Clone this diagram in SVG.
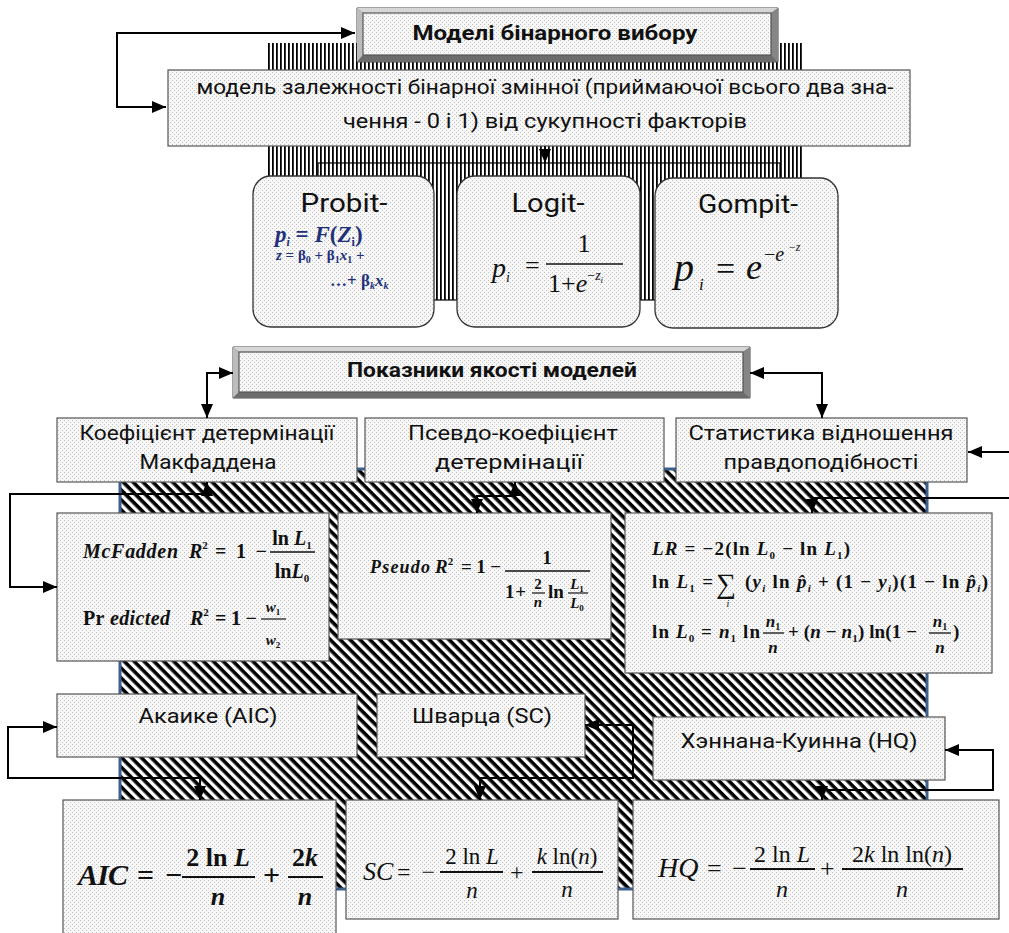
<svg xmlns="http://www.w3.org/2000/svg" width="1009" height="933" viewBox="0 0 1009 933">
<defs>
<pattern id="dots" width="4" height="4" patternUnits="userSpaceOnUse"><rect width="4" height="4" fill="#f7f7f7"/><rect x="0" y="0" width="1" height="1" fill="#c2c2c2"/><rect x="2" y="2" width="1" height="1" fill="#c2c2c2"/></pattern>
<pattern id="vh" width="4" height="8" patternUnits="userSpaceOnUse"><rect width="4" height="8" fill="#fff"/><rect width="1.8" height="8" fill="#000"/></pattern>
<pattern id="dh" width="7" height="7" patternUnits="userSpaceOnUse" patternTransform="rotate(45)"><rect width="7" height="7" fill="#fff"/><rect width="7" height="3.6" fill="#000"/></pattern>
<marker id="ah" viewBox="0 0 14 12" refX="14" refY="6" markerWidth="14" markerHeight="12" markerUnits="userSpaceOnUse" orient="auto-start-reverse"><path d="M0,0 L14,6 L0,12 z" fill="#000"/></marker>
</defs>
<style>
.box{fill:url(#dots);stroke:#555;stroke-width:1.2}
.rbox{fill:url(#dots);stroke:#333;stroke-width:1.3}
.t{font-family:Roboto,"Noto Sans",sans-serif;font-size:21px;fill:#111;text-anchor:middle}
.tb{font-weight:bold;font-size:20px}
.big{font-size:26px}
.m{font-family:"Liberation Serif","Times New Roman",serif;fill:#111}
.i{font-style:italic}
.b{font-weight:bold}
.c{text-anchor:middle}
.fb{stroke:#111;stroke-width:1.6}
.cn{fill:none;stroke:#000;stroke-width:2}
.nv{fill:#22307a}
.bev1{fill:#d6d6d6}.bev2{fill:#bcbcbc}.bev3{fill:#6c6c6c}.bev4{fill:#858585}
</style>
<rect width="1009" height="933" fill="#fff"/>

<g id="hatch-top">
<rect x="268" y="43" width="535" height="257" fill="url(#vh)"/>
<rect x="318" y="163" width="462" height="137" fill="none" stroke="#000" stroke-width="1.2"/>
</g>
<g id="hatch-mid">
<rect x="120" y="469" width="807" height="420" fill="url(#dh)" stroke="#3d5f8f" stroke-width="3"/>
</g>

<g id="title1">
<polygon points="357,8 778,8 778,62 357,62" fill="#777" stroke="#444" stroke-width="1"/>
<polygon class="bev1" points="357,8 778,8 771,13 363,13"/>
<polygon class="bev2" points="357,8 363,13 363,55 357,62"/>
<polygon class="bev3" points="357,62 363,55 771,55 778,62"/>
<polygon class="bev4" points="778,8 778,62 771,55 771,13"/>
<rect x="363" y="13" width="408" height="42" class="box"/>
<text x="555" y="40" class="t tb" textLength="285" lengthAdjust="spacingAndGlyphs">Моделі бінарного вибору</text>
</g>

<g id="binary-model">
<rect x="168" y="70" width="742" height="76" class="box"/>
<text x="545" y="94" class="t" textLength="697" lengthAdjust="spacingAndGlyphs">модель залежності бінарної змінної (приймаючої всього два зна-</text>
<text x="545" y="128" class="t" textLength="404" lengthAdjust="spacingAndGlyphs">чення - 0 і 1) від сукупності факторів</text>
</g>

<g id="probit">
<rect x="253" y="176" width="181" height="151" rx="18" class="rbox"/>
<text x="344" y="212" class="t big" textLength="87" lengthAdjust="spacingAndGlyphs">Probit-</text>
<text x="275" y="242" class="m b nv" font-size="23"><tspan class="i">p</tspan><tspan font-size="12" dy="4" class="i">i</tspan><tspan dy="-4"> = </tspan><tspan class="i">F</tspan>(<tspan class="i">Z</tspan><tspan font-size="12" dy="4">i</tspan><tspan dy="-4">)</tspan></text>
<text x="276" y="260" class="m b nv" font-size="15"><tspan class="i">z</tspan> = β<tspan font-size="10" dy="3">0</tspan><tspan dy="-3"> + β</tspan><tspan font-size="10" dy="3">1</tspan><tspan dy="-3" class="i">x</tspan><tspan font-size="10" dy="3">1</tspan><tspan dy="-3"> +</tspan></text>
<text x="330" y="286" class="m b nv" font-size="17">…+ β<tspan font-size="10" dy="3" class="i">k</tspan><tspan dy="-3" class="i">x</tspan><tspan font-size="10" dy="3" class="i">k</tspan></text>
</g>

<g id="logit">
<rect x="457" y="176" width="183" height="151" rx="18" class="rbox"/>
<text x="548" y="212" class="t big" textLength="73" lengthAdjust="spacingAndGlyphs">Logit-</text>
<text x="492" y="277" class="m i" font-size="28">p<tspan font-size="14" dy="5">i</tspan></text>
<text x="525" y="274" class="m" font-size="26">=</text>
<text x="584" y="252" class="m c" font-size="26">1</text>
<line x1="546" y1="264" x2="623" y2="264" class="fb"/>
<text x="548" y="292" class="m" font-size="26">1+<tspan class="i">e</tspan><tspan font-size="14" dy="-12">−</tspan><tspan font-size="14" class="i">z</tspan><tspan font-size="9" dy="3" class="i">i</tspan></text>
</g>

<g id="gompit">
<rect x="655" y="178" width="183" height="150" rx="18" class="rbox"/>
<text x="748" y="213" class="t big" textLength="100" lengthAdjust="spacingAndGlyphs">Gompit-</text>
<text x="674" y="281" class="m i" font-size="40">p</text>
<text x="699" y="290" class="m i" font-size="17">i</text>
<text x="716" y="280" class="m" font-size="34">=</text>
<text x="746" y="279" class="m i" font-size="36">e</text>
<text x="764" y="261" class="m" font-size="20">−<tspan class="i">e</tspan></text>
<text x="789" y="251" class="m" font-size="12">−<tspan class="i">z</tspan></text>
</g>

<g id="title2">
<polygon points="233,347 750,347 750,398 233,398" fill="#777" stroke="#444" stroke-width="1"/>
<polygon class="bev1" points="233,347 750,347 743,352 239,352"/>
<polygon class="bev2" points="233,347 239,352 239,392 233,398"/>
<polygon class="bev3" points="233,398 239,392 743,392 750,398"/>
<polygon class="bev4" points="750,347 750,398 743,392 743,352"/>
<rect x="239" y="352" width="504" height="40" class="box"/>
<text x="492" y="377" class="t tb" textLength="290" lengthAdjust="spacingAndGlyphs">Показники якості моделей</text>
</g>

<g id="mcfadden-label">
<rect x="57" y="418" width="300" height="64" class="box"/>
<text x="207" y="440" class="t" textLength="255" lengthAdjust="spacingAndGlyphs">Коефіцієнт детермінації</text>
<text x="208" y="469" class="t" textLength="137" lengthAdjust="spacingAndGlyphs">Макфаддена</text>
</g>
<g id="pseudo-label">
<rect x="365" y="418" width="299" height="64" class="box"/>
<text x="513" y="440" class="t" textLength="210" lengthAdjust="spacingAndGlyphs">Псевдо-коефіцієнт</text>
<text x="509" y="469" class="t" textLength="148" lengthAdjust="spacingAndGlyphs">детермінації</text>
</g>
<g id="lr-label">
<rect x="676" y="418" width="291" height="64" class="box"/>
<text x="821" y="440" class="t" textLength="265" lengthAdjust="spacingAndGlyphs">Статистика відношення</text>
<text x="821" y="469" class="t" textLength="195" lengthAdjust="spacingAndGlyphs">правдоподібності</text>
</g>

<g id="mcfadden-formula">
<rect x="57" y="513" width="272" height="148" class="box"/>
<text x="83" y="558" class="m b i" font-size="20" textLength="95">McFadden</text>
<text x="189" y="558" class="m b i" font-size="20">R<tspan font-size="11" dy="-9" style="font-style:normal">2</tspan></text>
<text x="215" y="558" class="m b" font-size="20" textLength="52">= 1 −</text>
<text x="292" y="545" class="m b c" font-size="20">ln <tspan class="i">L</tspan><tspan font-size="11" dy="4">1</tspan></text>
<line x1="270" y1="552" x2="315" y2="552" class="fb"/>
<text x="292" y="578" class="m b c" font-size="20">ln<tspan class="i">L</tspan><tspan font-size="11" dy="4">0</tspan></text>
<text x="83" y="625" class="m b" font-size="20" textLength="87">Pr <tspan class="i">edicted</tspan></text>
<text x="190" y="625" class="m b i" font-size="20">R<tspan font-size="11" dy="-9" style="font-style:normal">2</tspan></text>
<text x="215" y="625" class="m b" font-size="20" textLength="42">= 1 −</text>
<text x="273" y="612" class="m b c i" font-size="15">w<tspan font-size="9" dy="3" style="font-style:normal">1</tspan></text>
<line x1="261" y1="619" x2="286" y2="619" stroke="#111" stroke-width="1.2"/>
<text x="273" y="645" class="m b c i" font-size="15">w<tspan font-size="9" dy="3" style="font-style:normal">2</tspan></text>
</g>

<g id="pseudo-formula">
<rect x="338" y="513" width="273" height="126" class="box"/>
<text x="370" y="573" class="m b i" font-size="18" textLength="60">Pseudo</text>
<text x="435" y="573" class="m b i" font-size="19">R<tspan font-size="11" dy="-8" style="font-style:normal">2</tspan></text>
<text x="461" y="573" class="m b" font-size="19" textLength="40">= 1 −</text>
<text x="547" y="564" class="m b c" font-size="19">1</text>
<line x1="505" y1="571" x2="590" y2="571" class="fb"/>
<text x="505" y="598" class="m b" font-size="19" textLength="21">1+</text>
<text x="538" y="589" class="m b c" font-size="15">2</text>
<line x1="532" y1="593" x2="545" y2="593" stroke="#111" stroke-width="1.2"/>
<text x="538" y="607" class="m b c i" font-size="15">n</text>
<text x="548" y="598" class="m b" font-size="19">ln</text>
<text x="577" y="589" class="m b c i" font-size="15">L<tspan font-size="9" dy="3" style="font-style:normal">1</tspan></text>
<line x1="568" y1="593" x2="588" y2="593" stroke="#111" stroke-width="1.2"/>
<text x="577" y="608" class="m b c i" font-size="15">L<tspan font-size="9" dy="3" style="font-style:normal">0</tspan></text>
</g>

<g id="lr-formula">
<rect x="625" y="513" width="367" height="160" class="box"/>
<text x="652" y="555" class="m b" font-size="19" textLength="198"><tspan class="i">LR</tspan> = −2(ln <tspan class="i">L</tspan><tspan font-size="11" dy="4">0</tspan><tspan dy="-4"> − ln </tspan><tspan class="i">L</tspan><tspan font-size="11" dy="4">1</tspan><tspan dy="-4">)</tspan></text>
<text x="652" y="588" class="m b" font-size="19" textLength="61">ln <tspan class="i">L</tspan><tspan font-size="11" dy="4">1</tspan><tspan dy="-4"> =</tspan></text>
<text x="726" y="593" class="m c" font-size="28">∑</text>
<text x="728" y="607" class="m i c" font-size="10">i</text>
<text x="745" y="588" class="m b" font-size="19" textLength="243">(<tspan class="i">y</tspan><tspan font-size="11" dy="4" class="i">i</tspan><tspan dy="-4"> ln </tspan><tspan class="i">p̂</tspan><tspan font-size="11" dy="4" class="i">i</tspan><tspan dy="-4"> + (1 − </tspan><tspan class="i">y</tspan><tspan font-size="11" dy="4" class="i">i</tspan><tspan dy="-4">)(1 − ln </tspan><tspan class="i">p̂</tspan><tspan font-size="11" dy="4" class="i">i</tspan><tspan dy="-4">)</tspan></text>
<text x="652" y="638" class="m b" font-size="19" textLength="108">ln <tspan class="i">L</tspan><tspan font-size="11" dy="4">0</tspan><tspan dy="-4"> = </tspan><tspan class="i">n</tspan><tspan font-size="11" dy="4">1</tspan><tspan dy="-4"> ln</tspan></text>
<text x="773" y="627" class="m b c i" font-size="17">n<tspan font-size="10" dy="3" style="font-style:normal">1</tspan></text>
<line x1="763" y1="633" x2="784" y2="633" stroke="#111" stroke-width="1.3"/>
<text x="773" y="653" class="m b c i" font-size="17">n</text>
<text x="788" y="638" class="m b" font-size="19" textLength="129">+ (<tspan class="i">n</tspan> − <tspan class="i">n</tspan><tspan font-size="11" dy="4">1</tspan><tspan dy="-4">) ln(1 −</tspan></text>
<text x="940" y="627" class="m b c i" font-size="17">n<tspan font-size="10" dy="3" style="font-style:normal">1</tspan></text>
<line x1="929" y1="633" x2="951" y2="633" stroke="#111" stroke-width="1.3"/>
<text x="940" y="653" class="m b c i" font-size="17">n</text>
<text x="953" y="638" class="m b" font-size="19">)</text>
</g>

<g id="aic-label">
<rect x="57" y="694" width="300" height="63" class="box"/>
<text x="208" y="723" class="t" textLength="139" lengthAdjust="spacingAndGlyphs">Акаике (AIC)</text>
</g>
<g id="sc-label">
<rect x="377" y="694" width="208" height="63" class="box"/>
<text x="482" y="723" class="t" textLength="140" lengthAdjust="spacingAndGlyphs">Шварца (SC)</text>
</g>
<g id="hq-label">
<rect x="653" y="717" width="292" height="63" class="box"/>
<text x="799" y="748" class="t" textLength="237" lengthAdjust="spacingAndGlyphs">Хэннана-Куинна (HQ)</text>
</g>

<g id="aic-formula">
<rect x="63" y="800" width="273" height="140" class="box"/>
<text x="78" y="885" class="m b i" font-size="30" textLength="50">AIC</text>
<text x="137" y="885" class="m b" font-size="30" textLength="45">= −</text>
<text x="218" y="866" class="m b c" font-size="26">2 ln <tspan class="i">L</tspan></text>
<line x1="182" y1="877" x2="255" y2="877" stroke="#111" stroke-width="2"/>
<text x="218" y="905" class="m b c i" font-size="26">n</text>
<text x="263" y="885" class="m b" font-size="30">+</text>
<text x="305" y="866" class="m b c" font-size="26">2<tspan class="i">k</tspan></text>
<line x1="288" y1="877" x2="323" y2="877" stroke="#111" stroke-width="2"/>
<text x="305" y="905" class="m b c i" font-size="26">n</text>
</g>

<g id="sc-formula">
<rect x="346" y="800" width="272" height="119" class="box"/>
<text x="363" y="880" class="m i" font-size="26">SC</text>
<text x="397" y="880" class="m" font-size="24" textLength="38">= −</text>
<text x="472" y="864" class="m c" font-size="23">2 ln <tspan class="i">L</tspan></text>
<line x1="440" y1="872" x2="503" y2="872" stroke="#111" stroke-width="1.8"/>
<text x="472" y="898" class="m c i" font-size="23">n</text>
<text x="510" y="880" class="m" font-size="24">+</text>
<text x="567" y="864" class="m c" font-size="23"><tspan class="i">k</tspan> ln(<tspan class="i">n</tspan>)</text>
<line x1="532" y1="872" x2="603" y2="872" stroke="#111" stroke-width="1.8"/>
<text x="567" y="897" class="m c i" font-size="23">n</text>
</g>

<g id="hq-formula">
<rect x="633" y="800" width="366" height="119" class="box"/>
<text x="658" y="877" class="m i" font-size="28">HQ</text>
<text x="707" y="877" class="m" font-size="26" textLength="40">= −</text>
<text x="782" y="862" class="m c" font-size="24">2 ln <tspan class="i">L</tspan></text>
<line x1="750" y1="869" x2="815" y2="869" stroke="#111" stroke-width="1.8"/>
<text x="782" y="897" class="m c i" font-size="24">n</text>
<text x="820" y="877" class="m" font-size="26">+</text>
<text x="902" y="862" class="m c" font-size="24">2<tspan class="i">k</tspan> ln ln(<tspan class="i">n</tspan>)</text>
<line x1="842" y1="869" x2="963" y2="869" stroke="#111" stroke-width="1.8"/>
<text x="902" y="897" class="m c i" font-size="24">n</text>
</g>

<g id="connectors">
<path class="cn" d="M355,33 H117 V107 H166" marker-start="url(#ah)" marker-end="url(#ah)"/>
<path class="cn" d="M545,146 V163" marker-end="url(#ah)"/>
<path class="cn" d="M233,373 H207 V418" marker-start="url(#ah)" marker-end="url(#ah)"/>
<path class="cn" d="M750,373 H822 V418" marker-start="url(#ah)" marker-end="url(#ah)"/>
<path class="cn" d="M1009,452 H968" marker-end="url(#ah)"/>
<path class="cn" d="M207,482 V494 H10 V587 H57" marker-start="url(#ah)" marker-end="url(#ah)"/>
<path class="cn" d="M515,482 V496 H477 V513" marker-start="url(#ah)" marker-end="url(#ah)"/>
<path class="cn" d="M1009,498 H812 V513" marker-end="url(#ah)"/>
<path class="cn" d="M57,727 H8 V778 H200 V800" marker-start="url(#ah)" marker-end="url(#ah)"/>
<path class="cn" d="M585,725 H633 V778 H480 V800" marker-start="url(#ah)" marker-end="url(#ah)"/>
<path class="cn" d="M945,750 H993 V790 H822 V800" marker-start="url(#ah)" marker-end="url(#ah)"/>
</g>
</svg>
